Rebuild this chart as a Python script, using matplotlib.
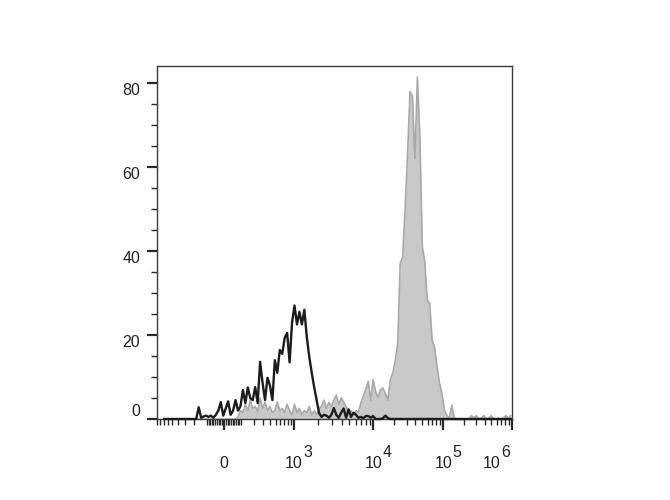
import numpy as np
import matplotlib
matplotlib.use("Agg")
import matplotlib.pyplot as plt
from matplotlib.transforms import ScaledTranslation

plt.rcParams["font.family"] = ["Liberation Sans", "DejaVu Sans"]

# biexponential-like display: anchors of the axis (value -> display units)
anchor_vals = [-1e5, -1e3, 0, 1e3, 1e4, 1e5, 1e6, 1e7]
anchor_pos = [-223, -71, 0, 71, 152, 223, 293, 363]
W = 150.0
anchor_t = np.arcsinh(np.array(anchor_vals) / W)


def fwd(v):
    return np.interp(np.arcsinh(np.asarray(v, dtype=float) / W), anchor_t, anchor_pos)


def inv(d):
    return W * np.sinh(np.interp(np.asarray(d, dtype=float), anchor_pos, anchor_t))


# histogram channels, equally spaced on the display axis
n_bins = 142
display_lo, display_hi = -62.0, 293.0

black_counts = [
    0, 0, 0, 0, 0, 0, 0, 0, 0, 0,
    0, 0, 0, 0, 2.8, 0.3, 0.6, 0.8, 0.5, 0.8,
    0.3, 1.0, 2.0, 4.0, 0.8, 2.5, 4.2, 1.0, 2.0, 4.5,
    2.0, 3.0, 6.9, 3.8, 7.5, 5.0, 4.5, 7.6, 3.8, 13.6,
    8.6, 4.5, 9.8, 8.0, 4.5, 14.0, 11.0, 16.4, 15.5, 19.3,
    20.5, 13.5, 23.0, 27.0, 22.5, 25.5, 22.5, 26.0, 19.5, 14.8,
    11.0, 7.6, 4.5, 1.4, 0.5, 1.0, 0.8, 0.3, 1.0, 2.6,
    1.0, 0.3, 1.5, 2.5, 0.3, 2.3, 0.5, 1.5, 1.0, 0.3,
    0.5, 0.2, 0.7, 0.7, 0.3, 0.7, 0, 0, 0, 0.2,
    0.8, 0.2, 0, 0, 0, 0, 0, 0, 0, 0,
    0, 0, 0, 0, 0, 0, 0, 0, 0, 0,
    0, 0, 0, 0, 0, 0, 0, 0, 0, 0,
    0, 0, 0, 0, 0, 0, 0, 0, 0, 0,
    0, 0, 0, 0, 0, 0, 0, 0, 0, 0,
    0, 0,
]

gray_counts = [
    0, 0, 0, 0, 0, 0, 0, 0, 0, 0,
    0, 0, 0, 0, 0, 0, 0, 0, 0, 0,
    0, 0, 0, 0, 0, 0, 0, 0, 0, 0,
    0.5, 2.0, 1.5, 3.5, 2.0, 4.5, 2.5, 3.0, 1.8, 5.0,
    2.5, 4.0, 2.0, 3.0, 1.5, 2.0, 4.0, 2.0, 2.5, 1.5,
    3.5, 2.0, 1.0, 3.5, 1.5, 2.5, 1.0, 2.0, 1.5, 3.0,
    1.0, 2.0, 1.0, 2.5, 3.0, 4.5, 2.5, 4.0, 3.0, 4.5,
    5.7, 3.5, 5.0, 4.0, 3.0, 1.5, 2.0, 1.0, 2.0, 1.5,
    3.8, 5.5, 7.0, 9.0, 4.5, 9.3, 6.5, 5.2, 7.0, 7.4,
    6.0, 4.5, 9.3, 11.0, 14.0, 18.0, 37.0, 38.5, 50.0, 63.0,
    78.0, 76.7, 62.0, 81.4, 67.0, 41.0, 37.5, 28.3, 27.5, 18.8,
    17.0, 12.4, 8.5, 6.0, 2.1, 0.8, 0.2, 3.3, 0.3, 0,
    0, 0, 0, 0, 0, 0.8, 0.2, 0.8, 0, 0.2,
    0.8, 0, 0.2, 0.8, 0, 0, 0.2, 0, 0.2, 0.8,
    0.2, 0.8,
]

major_vals = [0, 1e3, 1e4, 1e5, 1e6]
major_exps = ["", "3", "4", "5", "6"]
minor_vals = ([-k * 100 for k in range(1, 10)] + [-k * 10 for k in range(1, 10)]
              + [k * 10 for k in range(1, 10)] + [k * 100 for k in range(1, 10)]
              + [k * 10 ** n for n in (3, 4, 5) for k in range(2, 10)])

y_ticks = [0, 20, 40, 60, 80]
y_minor = [v for v in range(5, 85, 5) if v % 20]

step = (display_hi - display_lo) / n_bins
centers = inv(display_lo + step * (np.arange(n_bins) + 0.5))

fig = plt.figure(figsize=(6.7, 5.0), dpi=100)
ax = fig.add_axes([0.2343, 0.162, 0.5299, 0.706])
ax.set_xscale("function", functions=(fwd, inv))

ax.fill_between(centers, gray_counts, 0, color="#c9c9c9", lw=0, zorder=2)
ax.plot(centers, gray_counts, color="#a9a9a9", lw=1.2, zorder=3)
ax.plot(centers, black_counts, color="#1c1c1c", lw=1.7, zorder=4, clip_on=False)

ax.set_xlim(inv(display_lo), inv(display_hi))
ax.set_ylim(0, 84)

for side in ["top", "right", "left", "bottom"]:
    ax.spines[side].set_color("#3a3a3a")
    ax.spines[side].set_linewidth(1.0)

ax.set_xticks(major_vals, labels=[""] * len(major_vals))
ax.set_xticks(minor_vals, minor=True)
ax.tick_params(axis="x", which="major", direction="out", length=8, width=1.6, color="#2a2a2a")
ax.tick_params(axis="x", which="minor", direction="out", length=4, width=1.0, color="#2a2a2a")

ax.set_yticks(y_ticks, labels=[str(v) for v in y_ticks])
ax.set_yticks(y_minor, minor=True)
ax.tick_params(axis="y", which="major", direction="out", length=7, width=1.6,
               color="#2a2a2a", labelsize=11.5, pad=5, labelcolor="#222222")
ax.tick_params(axis="y", which="minor", direction="out", length=4, width=1.0, color="#2a2a2a")
ylabels = ax.get_yticklabels()
for lab in ylabels:
    lab.set_verticalalignment("top")
ylabels[0].set_verticalalignment("bottom")

# x labels drawn below the axis, "10" with a full-size exponent
xt = ax.get_xaxis_transform()
for i, (v, e) in enumerate(zip(major_vals, major_exps)):
    dx = -20 if i == len(major_vals) - 1 else 0
    base = "0" if e == "" else "10"
    ax.text(v, 0, base, transform=xt + ScaledTranslation(dx / 100, -49 / 100, fig.dpi_scale_trans),
            ha="center", va="baseline", fontsize=11.5, color="#222222")
    if e:
        ax.text(v, 0, e, transform=xt + ScaledTranslation((dx + 9.5) / 100, -38 / 100, fig.dpi_scale_trans),
                ha="left", va="baseline", fontsize=11.5, color="#222222")

fig.savefig("out.png", dpi=100)
